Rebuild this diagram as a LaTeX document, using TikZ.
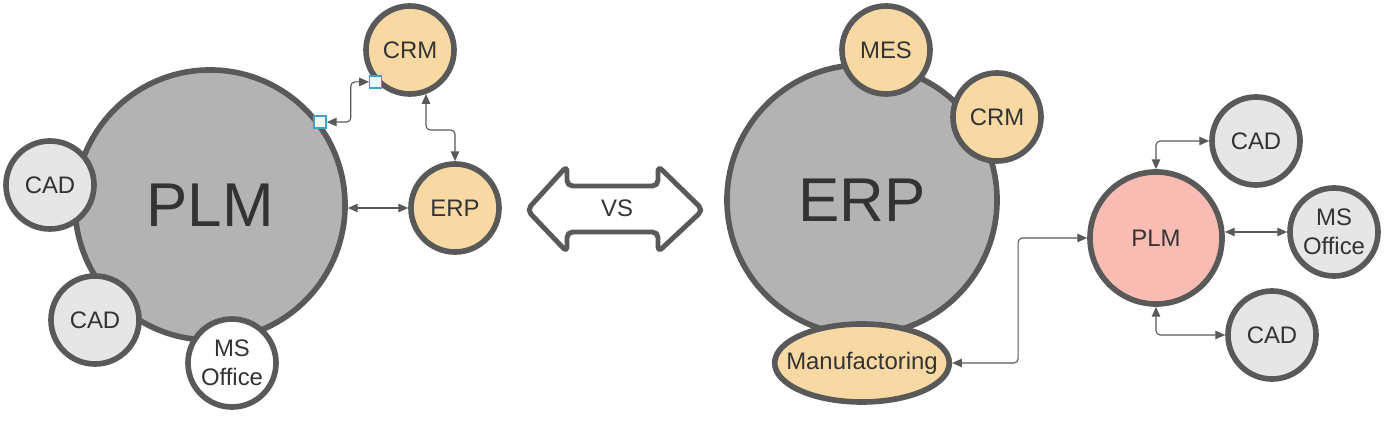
\documentclass[tikz,border=0pt]{standalone}
\usepackage{fontspec}
\setmainfont{Liberation Sans}
\usepackage{xcolor}
\usetikzlibrary{arrows.meta}
\usetikzlibrary{shapes.geometric}

\definecolor{edge}{HTML}{595959}
\definecolor{ink}{HTML}{333333}
\definecolor{hubgray}{HTML}{B3B3B3}
\definecolor{appgray}{HTML}{E6E6E6}
\definecolor{erporange}{HTML}{F9D9A3}
\definecolor{plmpink}{HTML}{F8BCB2}
\definecolor{handlecyan}{HTML}{3FA2C2}

\tikzset{
	ring/.style = {circle, draw = edge, line width = 4pt, text = ink, inner sep = 0pt},
	hub/.style = {ring, fill = hubgray, minimum size = 6.75cm, font = \fontsize{44}{44}\selectfont},
	app/.style = {ring, minimum size = 2.2cm, align = center, font = \fontsize{17}{21}\selectfont},
	mfg/.style = {ellipse, draw = edge, line width = 4pt, fill = erporange, text = ink, inner ysep = 0pt, inner xsep = -.35cm,
		minimum width = 4.35cm, minimum height = 1.95cm, font = \fontsize{17}{21}\selectfont},
	handle/.style = {rectangle, draw = handlecyan, fill = handlecyan!8, line width = 1pt, minimum size = .3cm, inner sep = 0pt},
	link/.style = {draw = edge, line width = .8pt, rounded corners = 3pt,
		{Triangle[length=7pt,width=6pt]}-{Triangle[length=7pt,width=6pt]}},
}

\begin{document}
\begin{tikzpicture}[x = .025cm, y = -.025cm]
	\fill[white] (0,0) rectangle (1392,425);
	\useasboundingbox (0,0) rectangle (1392,425);

	% PLM at the centre
	\node[hub] (plm) at (210,205) {PLM};
	\node[app, fill = appgray] (cadA) at (50,185) {CAD};
	\node[app, fill = appgray] (cadB) at (95,320) {CAD};
	\node[app, fill = white] (msA) at (232,363) {MS\\Office};
	\node[app, fill = erporange] (crmA) at (410,50) {CRM};
	\node[app, fill = erporange] (erpA) at (455,208) {ERP};

	\node[handle] (hdlA) at (plm.37) {};
	\node[handle] (hdlB) at (crmA.223) {};

	\draw[link] (hdlA.east) -- ++(24,0) |- (hdlB.west);
	\draw[link] (plm.east |- erpA.west) -- (erpA.west);
	\draw[link] (crmA.290) -- ++(0,36) -| (erpA.north);

	% VS
	\node[text = ink, font = \fontsize{17}{21}\selectfont] (vs) at (617,208) {VS};
	\draw[draw = edge, line width = 3.5pt, rounded corners = 4pt]
		(527,210) -- (567,166) -- (567,186) -- (658,186) -- (658,166) -- (703,210)
		-- (658,252) -- (658,232) -- (567,232) -- (567,252) -- cycle;

	% ERP at the centre
	\node[hub] (erp) at (862,200) {ERP};
	\node[app, fill = erporange] (mes) at (886,50) {MES};
	\node[app, fill = erporange] (crmB) at (997,117) {CRM};
	\node[mfg] (manu) at (862,363) {Manufactoring};
	\node[app, fill = plmpink, minimum size = 3.3cm] (plmB) at (1156,238) {PLM};
	\node[app, fill = appgray] (cadC) at (1256,141) {CAD};
	\node[app, fill = appgray] (msB) at (1334,232) {MS\\Office};
	\node[app, fill = appgray] (cadD) at (1272,335) {CAD};

	\draw[link] (plmB.north) |- (cadC.west);
	\draw[link] (plmB.east |- msB.west) -- (msB.west);
	\draw[link] (plmB.south) |- (cadD.west);
	\draw[link] (manu.east) -- ++(66,0) |- (plmB.west);
\end{tikzpicture}
\end{document}
